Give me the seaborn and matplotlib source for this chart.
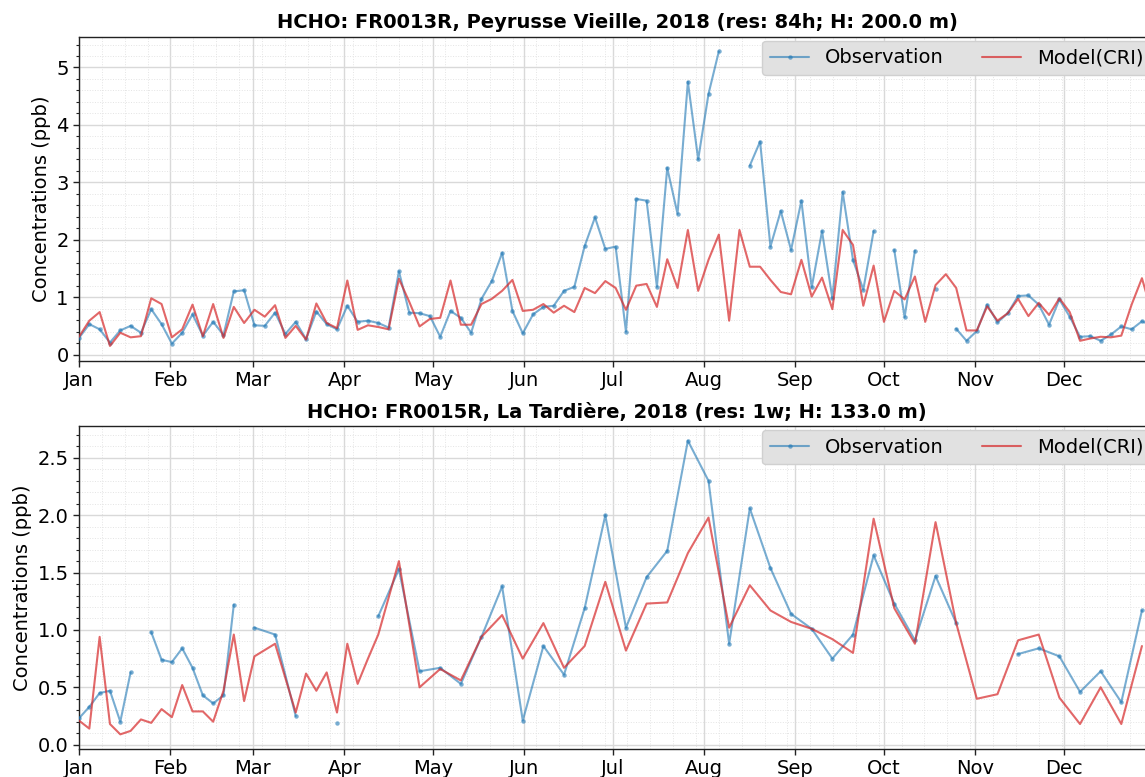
import numpy as np
import pandas as pd
import matplotlib
matplotlib.use("Agg")
import matplotlib.pyplot as plt
import matplotlib.dates as mdates
from matplotlib.ticker import AutoMinorLocator
from matplotlib.lines import Line2D
import seaborn as sns

# ---------------- data ----------------
title_top = "HCHO: FR0013R, Peyrusse Vieille, 2018 (res: 84h; H: 200.0 m)"
title_bot = "HCHO: FR0015R, La Tardière, 2018 (res: 1w; H: 133.0 m)"
ylabel = "Concentrations (ppb)"
legend_labels = ["Observation", "Model(CRI)"]

# Station 1: 84 h sampling starting 2018-01-01
top_start = "2018-01-01"
top_obs = [0.29, 0.53, 0.44, 0.21, 0.42, 0.50, 0.38, 0.79, 0.53, 0.19,
           0.38, 0.70, 0.33, 0.57, 0.34, 1.10, 1.12, 0.51, 0.50, 0.73,
           0.36, 0.57, 0.27, 0.75, 0.53, 0.44, 0.85, 0.57, 0.59, 0.55,
           0.47, 1.45, 0.73, 0.72, 0.67, 0.31, 0.76, 0.64, 0.38, 0.97,
           1.28, 1.77, 0.76, 0.37, 0.70, 0.83, 0.85, 1.11, 1.18, 1.89,
           2.39, 1.84, 1.88, 0.40, 2.71, 2.68, 1.18, 3.25, 2.45, 4.75,
           3.40, 4.54, 5.28, np.nan, np.nan, 3.29, 3.71, 1.88, 2.50, 1.82,
           2.68, 1.17, 2.15, 0.98, 2.83, 1.65, 1.13, 2.15, np.nan, 1.82,
           0.65, 1.81, np.nan, 1.14, np.nan, 0.45, 0.24, 0.41, 0.87, 0.56,
           0.72, 1.02, 1.03, 0.87, 0.52, 0.96, 0.66, 0.31, 0.32, 0.24,
           0.35, 0.49, 0.44, 0.58, 0.50]
top_mod = [0.31, 0.59, 0.74, 0.15, 0.38, 0.30, 0.32, 0.98, 0.88, 0.30,
           0.44, 0.87, 0.32, 0.88, 0.29, 0.83, 0.55, 0.78, 0.66, 0.86,
           0.29, 0.50, 0.26, 0.89, 0.55, 0.46, 1.29, 0.43, 0.51, 0.48,
           0.44, 1.32, 0.92, 0.49, 0.62, 0.64, 1.29, 0.52, 0.52, 0.88,
           0.97, 1.11, 1.30, 0.76, 0.78, 0.88, 0.73, 0.85, 0.74, 1.16,
           1.07, 1.28, 1.16, 0.78, 1.20, 1.23, 0.83, 1.66, 1.16, 2.17,
           1.11, 1.65, 2.09, 0.59, 2.17, 1.53, 1.53, 1.30, 1.09, 1.05,
           1.65, 1.01, 1.34, 0.79, 2.17, 1.91, 0.85, 1.55, 0.57, 1.11,
           0.96, 1.36, 0.57, 1.21, 1.40, 1.16, 0.42, 0.42, 0.84, 0.59,
           0.72, 0.97, 0.67, 0.90, 0.69, 0.98, 0.74, 0.24, 0.28, 0.31,
           0.30, 0.33, 0.87, 1.33, 0.70]

# Station 2: sample times (days after 2018-01-01)
bot_days = [0, 3.5, 7, 10.5, 14, 17.5, 21, 24.5, 28, 31.5, 35, 38.5, 42, 45.5,
            49, 52.5, 56, 59.5, 66.5, 73.5, 77, 80.5, 84, 87.5, 91, 94.5, 98,
            101.5, 108.5, 115.5, 122.5, 129.5, 136.5, 143.5, 150.5, 157.5,
            164.5, 171.5, 178.5, 185.5, 192.5, 199.5, 206.5, 213.5, 220.5,
            227.5, 234.5, 241.5, 248.5, 255.5, 262.5, 269.5, 276.5, 283.5,
            290.5, 297.5, 304.5, 311.5, 318.5, 325.5, 332.5, 339.5, 346.5,
            353.5, 360.5]
bot_obs = [0.23, 0.33, 0.45, 0.47, 0.20, 0.63, np.nan, 0.98, 0.74, 0.72,
           0.84, 0.67, 0.43, 0.36, 0.43, 1.22, np.nan, 1.02, 0.96, 0.25,
           np.nan, np.nan, np.nan, 0.19, np.nan, np.nan, np.nan,
           1.12, 1.53, 0.64, 0.67, 0.53, 0.94, 1.38, 0.21, 0.86,
           0.61, 1.19, 2.00, 1.02, 1.46, 1.69, 2.65, 2.30, 0.88,
           2.06, 1.54, 1.14, 1.01, 0.75, 0.96, 1.65, 1.23, 0.91,
           1.47, 1.06, np.nan, np.nan, 0.79, 0.84, 0.77, 0.46, 0.64,
           0.37, 1.17]
bot_mod = [0.21, 0.14, 0.94, 0.18, 0.09, 0.12, 0.22, 0.19, 0.31, 0.24,
           0.52, 0.29, 0.29, 0.20, 0.47, 0.96, 0.38, 0.77, 0.88, 0.28,
           0.62, 0.47, 0.63, 0.28, 0.88, 0.53, 0.75,
           0.96, 1.60, 0.50, 0.66, 0.56, 0.94, 1.13, 0.75, 1.06,
           0.67, 0.86, 1.42, 0.82, 1.23, 1.24, 1.67, 1.98, 1.02,
           1.39, 1.17, 1.07, 1.01, 0.92, 0.80, 1.97, 1.19, 0.88,
           1.94, 1.06, 0.40, 0.44, 0.91, 0.96, 0.41, 0.18, 0.50,
           0.18, 0.86]

# ---------------- style ----------------
sns.set_theme(style="ticks")
plt.rcParams["font.family"] = ["DejaVu Sans"]
for k in ["text.color", "axes.labelcolor", "xtick.color", "ytick.color", "axes.edgecolor"]:
    plt.rcParams[k] = "black"

OBS_C = "#1f77b4"
MOD_C = "#d62728"
FS = 14

t0 = pd.Timestamp(top_start)
top_dates = pd.date_range(t0, periods=len(top_obs), freq="84h")
bot_dates = t0 + pd.to_timedelta(np.array(bot_days), unit="D")


def make_frame(dates, obs, mod):
    df = pd.DataFrame({"date": dates, "obs": np.array(obs, float), "mod": np.array(mod, float)})
    # contiguous observation segments (lines break at missing values)
    valid = df["obs"].notna()
    df["seg"] = (~valid).cumsum()
    return df


fig = plt.figure(figsize=(11.45, 7.77), dpi=100)
ax_top = fig.add_axes([0.069, 0.5358, 0.9397, 0.4170])
ax_bot = fig.add_axes([0.069, 0.0360, 0.9397, 0.4157])

for ax, dates, obs, mod, title in [
    (ax_top, top_dates, top_obs, top_mod, title_top),
    (ax_bot, bot_dates, bot_obs, bot_mod, title_bot),
]:
    df = make_frame(dates, obs, mod)
    dobs = df[df["obs"].notna()]
    sns.lineplot(data=dobs, x="date", y="obs", units="seg", estimator=None,
                 color=OBS_C, alpha=0.6, lw=1.5, marker="o", markersize=3.2,
                 markeredgewidth=0, legend=False, ax=ax, zorder=3)
    sns.lineplot(data=df, x="date", y="mod", color=MOD_C, alpha=0.7, lw=1.5,
                 legend=False, ax=ax, zorder=3)

    ax.set_xlim(pd.Timestamp("2018-01-01"), pd.Timestamp("2018-12-31 22:00"))
    ax.xaxis.set_major_locator(mdates.MonthLocator())
    ax.xaxis.set_major_formatter(mdates.DateFormatter("%b"))
    ax.xaxis.set_minor_locator(AutoMinorLocator(4))
    ax.yaxis.set_minor_locator(AutoMinorLocator())
    ax.grid(which="major", color="#d9d9d9", lw=1.0, ls="-", zorder=0)
    ax.grid(which="minor", color="#e4e4e4", lw=0.7, ls=":", zorder=0)
    ax.set_axisbelow(True)
    ax.tick_params(axis="both", which="major", labelsize=FS, length=4, width=1, color="#222222")
    ax.tick_params(axis="x", which="minor", length=0)
    ax.tick_params(axis="y", which="minor", length=2.5, width=0.8, color="#222222")
    for s in ax.spines.values():
        s.set_color("#222222")
        s.set_linewidth(1.0)
    ax.set_xlabel("")
    ax.set_ylabel(ylabel, fontsize=FS)
    ax.set_title(title, fontsize=FS, fontweight="bold", pad=6)

    handles = [
        Line2D([], [], color=OBS_C, alpha=0.6, lw=1.5, marker="o", markersize=3.2, markeredgewidth=0),
        Line2D([], [], color=MOD_C, alpha=0.7, lw=1.5),
    ]
    leg = ax.legend(handles, legend_labels, loc="upper right", ncol=2, fontsize=FS,
                    frameon=True, fancybox=True, framealpha=1.0, borderaxespad=0.2)
    leg.get_frame().set_facecolor("#e1e1e1")
    leg.get_frame().set_edgecolor("#d0d0d0")

fig.savefig("out.png", dpi=100)
